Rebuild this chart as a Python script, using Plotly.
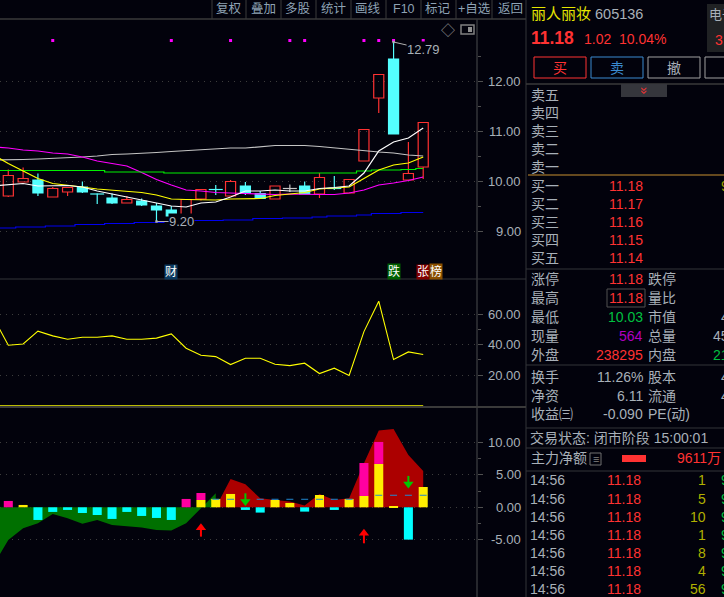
"""
Stock terminal view of 605136: K-line, oscillator, MACD-style pane and quote panel.
"""

import plotly.graph_objects as go

W, H = 724, 597
BG = '#02020c'
LINE = '#333438'
DOT = '#3c3c3c'
GREY = '#a8b0b8'
RED = '#ff3232'
CYAN = '#54ffff'
GREEN = '#00c040'
FONT = 'Liberation Sans, Noto Sans CJK SC'

# --- K-line pane ---
days = list(range(29))
opens = [9.71, 9.99, 10.03, 9.69, 9.79, 9.89, 9.76, 9.67, 9.57, 9.61, 9.51, 9.43, 9.24, 9.65, 9.85,
         9.71, 9.91, 9.76, 9.65, 9.86, 9.91, 9.75, 9.87, 9.77, 10.41, 11.67, 12.45, 10.03, 10.29]
highs = [10.24, 10.28, 10.16, 9.89, 9.88, 10.00, 9.77, 9.76, 9.71, 9.66, 9.57, 9.51, 9.64, 9.84, 9.93,
         10.03, 9.99, 9.81, 9.91, 9.94, 10.00, 10.17, 10.11, 10.04, 11.04, 12.14, 12.79, 10.79, 11.18]
lows = [9.69, 9.99, 9.71, 9.69, 9.71, 9.77, 9.55, 9.55, 9.57, 9.51, 9.20, 9.31, 9.24, 9.62, 9.73,
        9.71, 9.73, 9.66, 9.65, 9.79, 9.75, 9.67, 9.83, 9.77, 10.41, 11.37, 10.95, 10.03, 10.05]
closes = [10.12, 10.06, 9.77, 9.86, 9.88, 9.79, 9.75, 9.57, 9.64, 9.53, 9.43, 9.31, 9.64, 9.84, 9.84,
          10.00, 9.76, 9.66, 9.91, 9.86, 9.75, 10.08, 9.86, 10.04, 11.04, 12.14, 10.95, 10.16, 11.18]

ma_days = list(range(-1, 29))
ma_white = [9.91, 9.93, 9.96, 9.91, 9.91, 9.92, 9.89, 9.81, 9.75, 9.69, 9.63, 9.57, 9.51, 9.49, 9.57,
            9.59, 9.69, 9.81, 9.81, 9.83, 9.81, 9.81, 9.86, 9.88, 9.91, 10.17, 10.61, 10.79, 10.87, 11.07]
ma_yellow = [10.53, 10.36, 10.21, 10.06, 9.96, 9.93, 9.89, 9.85, 9.83, 9.80, 9.78, 9.73, 9.65, 9.64, 9.64,
             9.63, 9.65, 9.66, 9.66, 9.72, 9.75, 9.78, 9.85, 9.87, 9.89, 10.06, 10.23, 10.33, 10.37, 10.49]
ma_green = [10.22, 10.22, 10.22, 10.22, 10.22, 10.22, 10.22, 10.22, 10.19, 10.19, 10.19, 10.19, 10.17, 10.17, 10.17,
            10.17, 10.17, 10.17, 10.17, 10.17, 10.17, 10.17, 10.17, 10.17, 10.17, 10.21, 10.23, 10.23, 10.24, 10.26]
ma_blue = [9.07, 9.07, 9.09, 9.09, 9.11, 9.11, 9.14, 9.14, 9.16, 9.16, 9.18, 9.18, 9.20, 9.20, 9.22,
           9.22, 9.23, 9.23, 9.26, 9.26, 9.27, 9.27, 9.29, 9.31, 9.31, 9.33, 9.36, 9.36, 9.38, 9.38]
ma_magenta = [10.69, 10.67, 10.63, 10.61, 10.57, 10.55, 10.49, 10.41, 10.36, 10.31, 10.18, 10.04, 9.93, 9.83, 9.81,
              9.78, 9.77, 9.76, 9.75, 9.74, 9.75, 9.74, 9.74, 9.74, 9.77, 9.83, 9.93, 9.97, 10.02, 10.09]
ma_grey = [10.43, 10.43, 10.44, 10.45, 10.46, 10.48, 10.49, 10.51, 10.54, 10.55, 10.56, 10.58, 10.60, 10.62, 10.64,
           10.65, 10.67, 10.67, 10.69, 10.72, 10.72, 10.72, 10.70, 10.67, 10.65, 10.62, 10.59, 10.57, 10.53, 10.51]

dot_days = [3, 11, 15, 19, 20, 24, 25, 26, 28]
dot_level = 12.82

# --- oscillator pane ---
osc = [57.6, 39.7, 40.5, 48.9, 45.8, 43.6, 44.9, 44.9, 45.8, 43.6, 43.6, 44.3, 47.1, 37.7, 33.1,
       32.2, 27.0, 31.1, 31.1, 27.2, 26.3, 27.9, 21.1, 24.6, 19.8, 48.6, 68.5, 30.3, 35.3, 33.6]

# --- lower pane ---
area = [-8.9, -5.05, -3.25, -2.47, -1.03, -1.7, -2.53, -1.96, -2.73, -2.89, -3.14, -3.5, -3.6, -2.47, -0.15,
        2.16, 4.38, 3.56, 1.39, 1.13, 0.88, 0.26, 2.06, 1.13, 1.39, 6.8, 11.86, 12.1, 8.09, 5.62]
bar_yellow = [0, 0.36, 0, 0, 0, 0, 0, 0, 0, 0, 0, 0, 0, 1.13, 1.29,
              2.06, 0, 0, 1.13, 0.67, 0, 1.9, 0, 1.29, 1.75, 6.7, 0.2, 0, 3.14]
bar_pink = [0.98, 0, 0, 0, 0, 0, 0, 0, 0, 0, 0, 0, 1.29, 1.08, 0,
            0, 0, 0, 0, 0, 0, 0, 0, 0, 5.1, 3.4, 0, 0, 0]
bar_cyan = [0, 0, -1.96, -0.72, -0.41, -0.88, -1.19, -1.8, -0.72, -1.34, -1.65, -1.96, 0, 0, 0,
            0, -0.41, -0.82, 0, 0, -0.67, 0, -0.41, 0, 0, 0, 0, -5.0, 0]
dash_days = [14, 15, 17, 18, 19, 20, 21, 22, 23, 25, 26, 27, 28]
dash_vals = [1.24, 1.24, 1.24, 1.24, 1.24, 1.24, 1.24, 1.24, 1.24, 1.86, 1.86, 1.86, 1.86]
# day, head centre, far end of the stem
up_arrows = [(13, -3.15, -4.54), (24, -4.0, -5.57)]
down_arrows = [(16, 0.88, 2.16), (27, 3.6, 4.85)]

# --- axis labels ---
main_ticks = [12, 11, 10, 9]
main_minor = [12.5, 11.5, 10.5, 9.5]
osc_ticks = [60, 40, 20]
osc_minor = [50, 30]
low_ticks = [10, 5, 0, -5]
low_minor = [7.5, 2.5, -2.5]

# --- toolbar and quote panel ---
toolbar = ['复权', '叠加', '多股', '统计', '画线', 'F10', '标记', '+自选', '返回']
toolbar_x = [229, 263, 298, 333, 368, 404, 438, 474, 510]
sell_labels = ['卖五', '卖四', '卖三', '卖二', '卖一']
buy_labels = ['买一', '买二', '买三', '买四', '买五']
buy_prices = ['11.18', '11.17', '11.16', '11.15', '11.14']
stat_labels = ['涨停', '最高', '最低', '现量', '外盘']
stat_values = ['11.18', '11.18', '10.03', '564', '238295']
stat_colors = [RED, RED, GREEN, '#b000c0', RED]
stat_labels2 = ['跌停', '量比', '市值', '总量', '内盘']
stat_tails = ['', '', '4', '45', '21']
stat_tail_colors = [GREY, GREY, GREY, GREY, GREEN]
fin_labels = ['换手', '净资', '收益㈢']
fin_values = ['11.26%', '6.11', '-0.090']
fin_labels2 = ['股本', '流通', 'PE(动)']
fin_tails = ['4', '4', '']
tick_vols = ['1', '5', '10', '1', '8', '4', '56']


def px_x(x):
    return x / W


def px_y(y):
    return 1 - y / H


annotations = []
shapes = []


def add_text(x, y, text, color=GREY, size=14, anchor='left', **kw):
    annotations.append(dict(
        x=px_x(x), y=px_y(y), xref='paper', yref='paper', text=text, showarrow=False,
        xanchor=anchor, yanchor='middle', font=dict(family=FONT, size=size, color=color),
        borderpad=0, **kw,
    ))


def add_rect(x0, y0, x1, y1, line=None, fill=None, width=1):
    shapes.append(dict(
        type='rect', xref='paper', yref='paper', x0=px_x(x0), x1=px_x(x1), y0=px_y(y0), y1=px_y(y1),
        line=dict(color=line or 'rgba(0,0,0,0)', width=width if line else 0), fillcolor=fill or 'rgba(0,0,0,0)',
    ))


def add_line(x0, y0, x1, y1, color=LINE, width=1):
    shapes.append(dict(
        type='line', xref='paper', yref='paper', x0=px_x(x0), x1=px_x(x1), y0=px_y(y0), y1=px_y(y1),
        line=dict(color=color, width=width),
    ))


fig = go.Figure()

# Wicks stop at the body so hollow candles stay hollow
wicks = {RED: ([], []), CYAN: ([], []), '#c8c8c8': ([], [])}
doji = {CYAN: ([], []), '#c8c8c8': ([], [])}
body_x, body_base, body_h, body_fill, body_line = [], [], [], [], []
for d, o, h, l, c in zip(days, opens, highs, lows, closes):
    color = RED if c > o else (CYAN if c < o else '#c8c8c8')
    top, bot = max(o, c), min(o, c)
    xs, ys = wicks[color]
    xs += [d, d, None, d, d, None]
    ys += [h, top, None, bot, l, None]
    if top - bot < 0.015:
        doji[color][0].append(d)
        doji[color][1].append(c)
        continue
    body_x.append(d)
    body_base.append(bot)
    body_h.append(top - bot)
    body_fill.append('rgba(0,0,0,0)' if color == RED else CYAN)
    body_line.append(color)

fig.add_trace(go.Bar(x=body_x, y=body_h, base=body_base, width=0.68, xaxis='x', yaxis='y',
                     marker=dict(color=body_fill, line=dict(color=body_line, width=1.2))))
for color, (xs, ys) in wicks.items():
    fig.add_trace(go.Scatter(x=xs, y=ys, mode='lines', xaxis='x', yaxis='y',
                             line=dict(color=color, width=1.2)))
for color, (xs, ys) in doji.items():
    fig.add_trace(go.Scatter(x=xs, y=ys, mode='markers', xaxis='x', yaxis='y',
                             marker=dict(symbol='line-ew', size=10, line=dict(color=color, width=1.2))))

for vals, color, shape in [
    (ma_grey, '#c4c4c4', 'linear'),
    (ma_magenta, '#ff00ff', 'linear'),
    (ma_green, '#00f000', 'hvh'),
    (ma_blue, '#0000f0', 'hvh'),
    (ma_yellow, '#ffff00', 'linear'),
    (ma_white, '#ffffff', 'linear'),
]:
    fig.add_trace(go.Scatter(x=ma_days, y=vals, mode='lines', xaxis='x', yaxis='y',
                             line=dict(color=color, width=1.2, shape=shape)))

fig.add_trace(go.Scatter(x=dot_days, y=[dot_level] * len(dot_days), mode='markers', xaxis='x', yaxis='y',
                         marker=dict(symbol='square', size=3, color='#ff00ff')))

# Oscillator pane
fig.add_trace(go.Scatter(x=ma_days, y=osc, mode='lines', xaxis='x2', yaxis='y2',
                         line=dict(color='#ffff00', width=1.1)))
fig.add_trace(go.Scatter(x=ma_days, y=[0] * len(ma_days), mode='lines', xaxis='x2', yaxis='y2',
                         line=dict(color='#ffff00', width=1)))

# Lower pane: the fills sit on y3, bars and arrows on the y4 overlay so they draw on top
cross = ma_days.index(13)
fig.add_trace(go.Scatter(x=ma_days[:cross + 2], y=area[:cross + 2], mode='lines', fill='tozeroy', xaxis='x3', yaxis='y3',
                         line=dict(color='#007000', width=0), fillcolor='#007000'))
fig.add_trace(go.Scatter(x=ma_days[cross + 1:], y=[0] + area[cross + 2:], mode='lines', fill='tozeroy', xaxis='x3', yaxis='y3',
                         line=dict(color='#ac0000', width=0), fillcolor='#ac0000'))
fig.add_trace(go.Bar(x=days, y=bar_yellow, width=0.61, xaxis='x3', yaxis='y4', marker=dict(color='#ffee00', line=dict(width=0))))
fig.add_trace(go.Bar(x=days, y=bar_pink, base=bar_yellow, width=0.61, xaxis='x3', yaxis='y4',
                     marker=dict(color='#ff00a0', line=dict(width=0))))
fig.add_trace(go.Bar(x=days, y=bar_cyan, width=0.61, xaxis='x3', yaxis='y4', marker=dict(color='#00ffff', line=dict(width=0))))
fig.add_trace(go.Scatter(x=dash_days, y=dash_vals, mode='markers', xaxis='x3', yaxis='y4',
                         marker=dict(symbol='line-ew', size=5, line=dict(color='#2088d0', width=1))))

for arrows, color, symbol in [(up_arrows, '#ff0000', 'triangle-up'), (down_arrows, '#00c800', 'triangle-down')]:
    xs, ys = [], []
    for d, head, end in arrows:
        xs += [d, d, None]
        ys += [head, end, None]
    fig.add_trace(go.Scatter(x=xs, y=ys, mode='lines', xaxis='x3', yaxis='y4', line=dict(color=color, width=2)))
    fig.add_trace(go.Scatter(x=[a[0] for a in arrows], y=[a[1] for a in arrows], mode='markers', xaxis='x3', yaxis='y4',
                             marker=dict(symbol=symbol, size=9, color=color)))

# Price labels on the extremes
for d, price, ax, ay in [(26, 12.79, 30, 7), (10, 9.20, 25, 0)]:
    annotations.append(dict(
        x=d, y=price, xref='x', yref='y', text=f'{price:.2f}', showarrow=True, ax=ax, ay=ay,
        arrowhead=7, arrowsize=0.6, arrowwidth=1, arrowcolor='#b0b0b0', bgcolor=BG, borderpad=0,
        font=dict(family=FONT, size=13, color=GREY),
    ))

# Axis labels, right aligned
for ticks, yref in [(main_ticks, 'y'), (osc_ticks, 'y2'), (low_ticks, 'y3')]:
    for t in ticks:
        annotations.append(dict(
            x=px_x(522), y=t, xref='paper', yref=yref, text=f'{t:.2f}', showarrow=False, xanchor='right',
            font=dict(family=FONT, size=13, color=GREY), borderpad=0,
        ))

# Event tags under the K-line
for d, text, fill in [(10.95, '财', '#0c3a60'), (26, '跌', '#006000'), (28, '张', '#800000'), (28.85, '榜', '#8a5000')]:
    annotations.append(dict(
        x=d, y=px_y(271.5), xref='x', yref='paper', text=text, showarrow=False, bgcolor=fill, borderpad=0,
        font=dict(family=FONT, size=12, color='#ffffff'),
    ))

# Toolbar
add_line(0, 19, 526, 19, '#3a3a3a', 1.5)
for x in [212, 246, 281, 316, 351, 386, 421, 456, 492]:
    add_line(x, 0, x, 19, '#3a3a3a')
for x, text in zip(toolbar_x, toolbar):
    add_text(x, 9, text, '#8ea2b4', 12.5, 'center')

# Pane frames
add_line(477, 19, 477, 597, LINE, 1.5)
add_line(526, 0, 526, 597, LINE, 1)
add_line(0, 279, 526, 279, LINE, 1)
add_line(0, 407, 526, 407, '#3a3a3a', 2)

# Chart corner glyphs
add_text(448, 30, '◇', '#909090', 14, 'center')
add_rect(461, 25, 474, 34, '#808080', None, 1.5)
add_rect(468, 27, 472, 32, None, '#909090')

# Quote header
add_text(530, 14, '丽人丽妆', '#e6e600', 15)
add_text(594, 14, '605136', GREY, 14.5)
add_text(530, 38, '<b>11.18</b>', RED, 17.5)
add_text(583, 39, '1.02', RED, 14)
add_text(618, 39, '10.04%', RED, 14)
add_rect(707, 4, 724, 52, None, '#202224')
add_text(708, 15, '电子', GREY, 13)
add_text(714, 40, '3.', RED, 14)

for x0, x1, text, color, tcolor in [
    (534, 586, '买', RED, RED),
    (591, 643, '卖', '#3a8ad0', '#3a8ad0'),
    (648, 700, '撤', '#a0a0a0', GREY),
    (705, 760, '', '#a0a0a0', GREY),
]:
    add_rect(x0, 57, x1, 78, color, None, 1)
    if text:
        add_text((x0 + x1) / 2, 67.5, text, tcolor, 14, 'center')

add_line(526, 84, 724, 84, '#3a3a3a', 1.5)
add_rect(621, 84, 667, 97, None, '#35363c')
add_text(644, 90, '»', RED, 13, 'center', textangle=90)

for i, text in enumerate(sell_labels):
    add_text(530, 95 + 18 * i, text, GREY)
add_line(528, 175, 724, 175, '#c89030', 1)
for i, (text, price) in enumerate(zip(buy_labels, buy_prices)):
    add_text(530, 186 + 18 * i, text, GREY)
    add_text(644, 186 + 18 * i, price, RED, 14, 'right')
add_text(720, 186, '9', '#a0a000')
add_line(526, 269, 724, 269)

for i in range(5):
    y = 279 + 19 * i
    add_text(530, y, stat_labels[i], GREY)
    add_text(644, y, stat_values[i], stat_colors[i], 14, 'right')
    add_text(647, y, stat_labels2[i], GREY)
    if stat_tails[i]:
        add_text(712 if len(stat_tails[i]) > 1 else 720, y, stat_tails[i], stat_tail_colors[i])
add_rect(607, 289, 645, 307, '#505050', None, 1)
add_line(526, 365, 724, 365)

for i in range(3):
    y = 377 + 18.5 * i
    add_text(530, y, fin_labels[i], GREY)
    add_text(644, y, fin_values[i], GREY, 14, 'right')
    add_text(647, y, fin_labels2[i], GREY)
    if fin_tails[i]:
        add_text(720, y, fin_tails[i], GREY)
add_line(526, 428, 724, 428)

add_text(529, 438, '交易状态: 闭市阶段 15:00:01', GREY, 14)
add_line(526, 448, 724, 448)
add_text(530, 458, '主力净额', GREY, 14)
add_rect(590, 453, 601, 465, '#707070', None, 1)
add_text(595.5, 459, '≡', '#808080', 11, 'center')
add_rect(622, 455, 646, 462, None, RED)
add_text(722, 458, '9611万', RED, 14, 'right')
add_line(526, 471, 724, 471)

for i, vol in enumerate(tick_vols):
    y = 480.5 + 18 * i
    add_text(529, y, '14:56', GREY)
    add_text(642, y, '11.18', RED, 14, 'right')
    add_text(707, y, vol, '#b0b000', 14, 'right')
    add_text(720, y, '9', GREEN)

x_range = [-0.56, 31.63]
x_base = dict(domain=[0, 477 / W], range=x_range, visible=False, fixedrange=True)


def y_axis(top, bottom, rng, ticks, minor_ticks):
    return dict(
        domain=[1 - bottom / H, 1 - top / H], range=rng, side='right', zeroline=False,
        tickmode='array', tickvals=ticks, showticklabels=False, ticks='outside', ticklen=5, tickcolor='#505050',
        minor=dict(tickmode='array', tickvals=minor_ticks, ticks='outside', ticklen=3, tickcolor='#505050', showgrid=False),
        showgrid=True, gridcolor=DOT, griddash='1px,5px', gridwidth=1,
        showline=False, fixedrange=True,
    )


fig.update_layout(
    width=W, height=H, margin=dict(l=0, r=0, t=0, b=0), autosize=False,
    paper_bgcolor=BG, plot_bgcolor=BG, showlegend=False, hovermode=False,
    barmode='overlay',
    xaxis=dict(x_base, anchor='y'),
    xaxis2=dict(x_base, anchor='y2'),
    xaxis3=dict(x_base, anchor='y3'),
    yaxis=y_axis(20, 278, [8.07, 13.23], main_ticks, main_minor),
    yaxis2=y_axis(280, 406, [-0.15, 82.4], osc_ticks, osc_minor),
    yaxis3=y_axis(408, 597, [-13.87, 15.35], low_ticks, low_minor),
    yaxis4=dict(domain=[1 - 597 / H, 1 - 408 / H], range=[-13.87, 15.35], overlaying='y3', visible=False, fixedrange=True),
    annotations=annotations,
    shapes=shapes,
)

fig.write_html("out.html", config={'displayModeBar': False},
               post_script="document.body.style.margin='0';document.body.style.overflow='hidden';")
